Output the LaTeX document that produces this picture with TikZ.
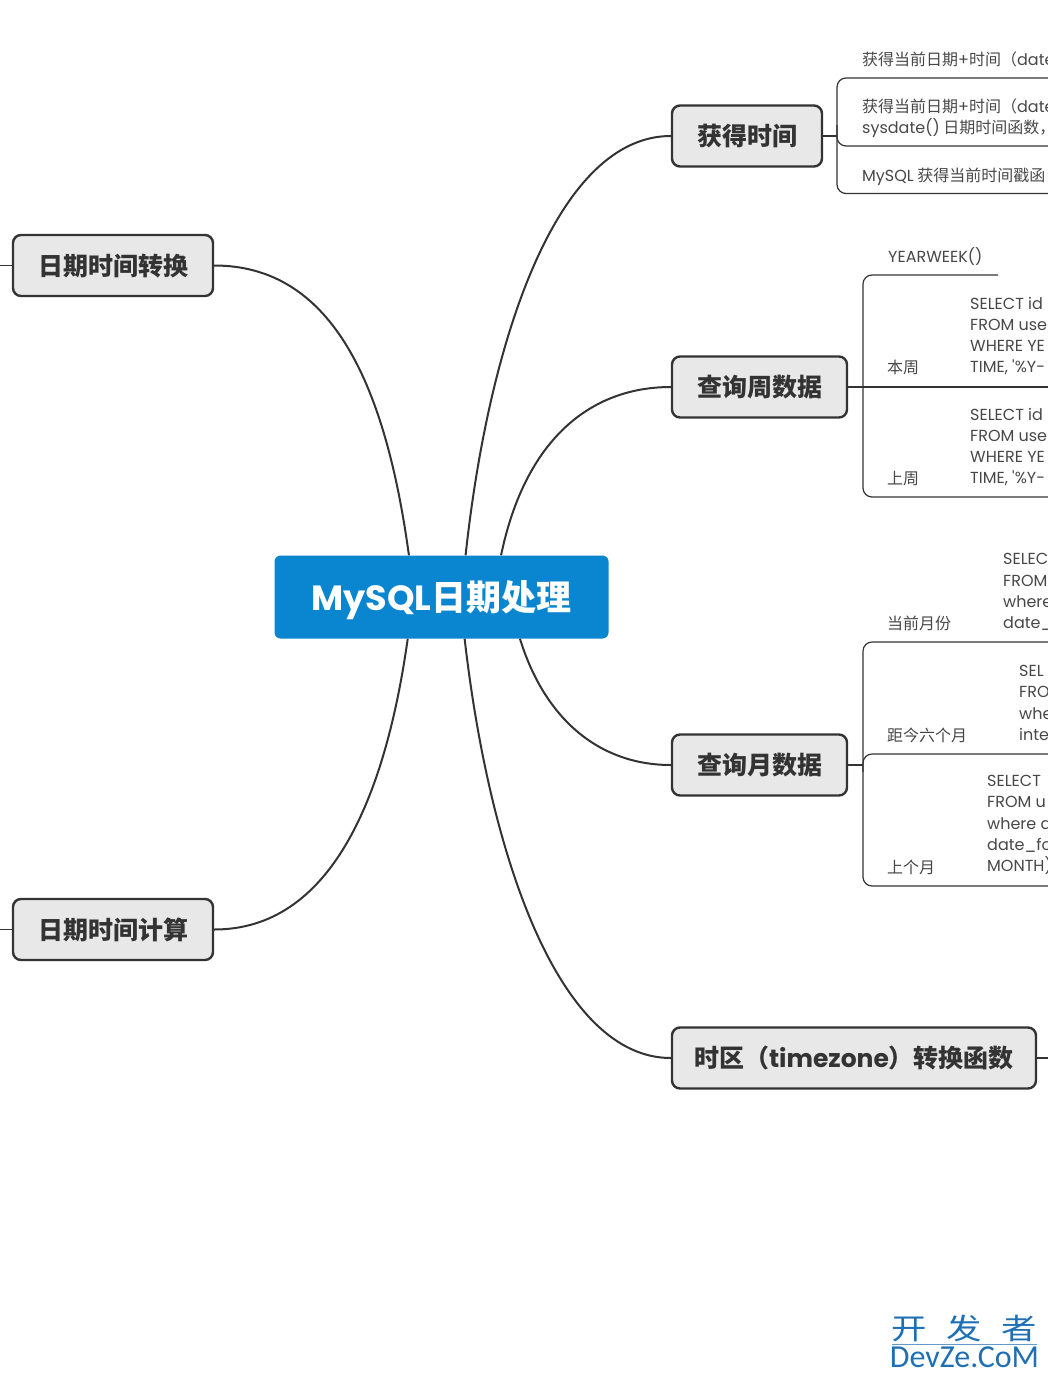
\documentclass[tikz,border=0pt]{standalone}
\usepackage{fontspec}
\setmainfont{Noto Sans CJK SC}
\newfontfamily\latinfont{Poppins}
\newfontfamily\logofont{Carlito}
\newcommand{\lat}[1]{{\latinfont #1}}
\definecolor{inkgrey}{HTML}{333333}
\definecolor{topicfill}{HTML}{E8E8E8}
\definecolor{rootblue}{HTML}{0A86D1}
\definecolor{logoblue}{HTML}{1F6FB5}
\tikzset{
  rootbox/.style={fill=rootblue, rounded corners=6, minimum width=334, minimum height=83, inner sep=0, text=white, text height=26.6pt, text depth=0pt, font=\fontsize{35}{35}\selectfont\bfseries},
  topicbox/.style={draw=inkgrey, line width=2.4, fill=topicfill, rounded corners=8, minimum height=61, inner sep=0, text=inkgrey, text height=19pt, text depth=0pt, font=\fontsize{25}{25}\selectfont\bfseries},
  branchline/.style={draw=inkgrey, line width=2},
  leafline/.style={draw=inkgrey, line width=1.2, rounded corners=9},
  leaftext/.style={anchor=west, inner sep=0, align=left, text=inkgrey!90, font=\fontsize{16}{21.3}\selectfont},
  leafsql/.style={leaftext, font=\fontsize{16}{21.3}\selectfont\latinfont},
  logotext/.style={inner sep=0, text=logoblue}
}
\begin{document}
\begin{tikzpicture}[x=1pt, y=-1pt]
  \clip (0,0) rectangle (1048,1379);

  \node[rootbox] (root) at (441.5,597) {\lat{MySQL}日期处理};
  \node[topicbox, minimum width=150] (now) at (747,136) {获得时间};
  \node[topicbox, minimum width=175] (week) at (759.5,387) {查询周数据};
  \node[topicbox, minimum width=175] (month) at (759.5,765) {查询月数据};
  \node[topicbox, minimum width=364] (zone) at (854,1058) {时区（\lat{timezone}）转换函数};
  \node[topicbox, minimum width=200] (convert) at (113,265.5) {日期时间转换};
  \node[topicbox, minimum width=200] (calc) at (113,929.5) {日期时间计算};

  % curves from the root
  \draw[branchline] (root.128.6) .. controls (385,380) and (330,265.5) .. (convert.east);
  \draw[branchline] (root.60.8) .. controls (490,330) and (560,136) .. (now.west);
  \draw[branchline] (root.35.7) .. controls (525,440) and (590,387) .. (week.west);
  \draw[branchline] (root.332.7) .. controls (545,720) and (600,765) .. (month.west);
  \draw[branchline] (root.299.2) .. controls (490,860) and (560,1058) .. (zone.west);
  \draw[branchline] (root.231.4) .. controls (385,800) and (330,929.5) .. (calc.east);

  % free ends at the page edge
  \coordinate (convertEnd) at (0,265.5);
  \coordinate (calcEnd) at (0,929.5);
  \coordinate (zoneEnd) at (1048,1058);
  \coordinate (nowStub) at (837,136);
  \coordinate (monthStub) at (863,765);
  \coordinate (weekEnd) at (1048,387);
  \draw[leafline] (convert.west) -- (convertEnd);
  \draw[leafline] (calc.west) -- (calcEnd);
  \draw[leafline] (zone.east) -- (zoneEnd);
  \draw[leafline] (now.east) -- (nowStub);
  \draw[leafline] (month.east) -- (monthStub);
  \draw[leafline] (week.east) -- (weekEnd);

  % brackets of the leaves
  \draw[leafline] (1048,78) -- (837,78) -- (837,193.5) -- (1048,193.5);
  \draw[leafline] (837,125) |- (1048,146);
  \draw[leafline] (998,275) -- (863,275) -- (863,497) -- (1048,497);
  \draw[leafline] (1048,642) -- (863,642) -- (863,886) -- (1048,886);
  \draw[leafline] (863,772) |- (1048,754);

  % leaves
  \node[leaftext] (nowA) at (862,59) {获得当前日期\lat{+}时间（\lat{date}};
  \node[leaftext] (nowB) at (862,118) {获得当前日期\lat{+}时间（\lat{date}\\\lat{sysdate()} 日期时间函数，};
  \node[leaftext] (nowC) at (862,176.5) {\lat{MySQL} 获得当前时间戳函};
  \node[leafsql] (weekFn) at (888,257) {YEARWEEK()};
  \node[leaftext] (weekThis) at (887,367) {本周};
  \node[leafsql] (weekThisSql) at (970,336) {SELECT id\\FROM use\\WHERE YE\\TIME, \char39\%Y-};
  \node[leaftext] (weekLast) at (887,479) {上周};
  \node[leafsql] (weekLastSql) at (970,447) {SELECT id\\FROM use\\WHERE YE\\TIME, \char39\%Y-};
  \node[leaftext] (monthNow) at (887,623) {当前月份};
  \node[leafsql] (monthNowSql) at (1003,592) {SELEC\\FROM\\where\\date\_f};
  \node[leaftext] (monthSix) at (887,735) {距今六个月};
  \node[leafsql] (monthSixSql) at (1019,703) {SEL\\FRO\\whe\\inte};
  \node[leaftext] (monthLast) at (887,867) {上个月};
  \node[leafsql] (monthLastSql) at (987,825) {SELECT\\FROM u\\where d\\date\_for\\MONTH)};

  % watermark
  \node[logotext, font=\fontsize{29}{29}\selectfont] (logoTop) at (964.5,1328) {\scalebox{1.22}[1]{开\hspace{16pt}发\hspace{16pt}者}};
  \node[logotext, font=\fontsize{32}{32}\selectfont\logofont] (logoBottom) at (964.5,1357) {DevZe.CoM};
  \coordinate (logoLineA) at (892,1344);
  \coordinate (logoLineB) at (1037,1344);
  \draw[logoblue!70, line width=0.6] (logoLineA) -- (logoLineB);
\end{tikzpicture}
\end{document}
